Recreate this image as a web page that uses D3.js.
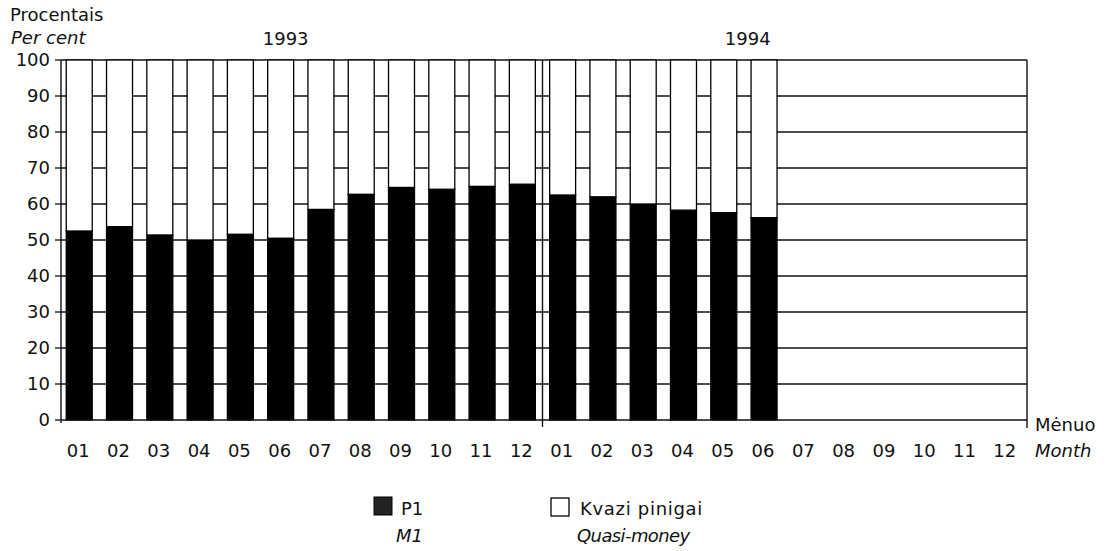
<!DOCTYPE html>
<html>
<head>
<meta charset="utf-8">
<script src="https://cdn.jsdelivr.net/npm/d3@7"></script>
<style>
  body { margin: 0; background: #fff; }
  text { font-family: "DejaVu Sans", sans-serif; fill: #111; font-size: 18px; }
  .it { font-style: italic; }
</style>
</head>
<body>
<script>
var w = 1110, h = 551;

// months shown on the axis (two years)
var periods = ["1993-01","1993-02","1993-03","1993-04","1993-05","1993-06","1993-07","1993-08","1993-09","1993-10","1993-11","1993-12",
               "1994-01","1994-02","1994-03","1994-04","1994-05","1994-06","1994-07","1994-08","1994-09","1994-10","1994-11","1994-12"];
var monthLabels = ["01","02","03","04","05","06","07","08","09","10","11","12",
                   "01","02","03","04","05","06","07","08","09","10","11","12"];
var years = ["1993", "1994"];
// shares, per cent (only up to 1994-06)
var m1Share    = [52.5, 53.7, 51.4, 50.0, 51.6, 50.5, 58.5, 62.7, 64.6, 64.1, 64.9, 65.5, 62.5, 62.0, 60.0, 58.3, 57.6, 56.2];
var quasiShare = [47.5, 46.3, 48.6, 50.0, 48.4, 49.5, 41.5, 37.3, 35.4, 35.9, 35.1, 34.5, 37.5, 38.0, 40.0, 41.7, 42.4, 43.8];
var yTicks = [0, 10, 20, 30, 40, 50, 60, 70, 80, 90, 100];

var margin = {top: 60, left: 59, right: 1026, bottom: 420};

var svg = d3.select("body").append("svg")
    .attr("width", w)
    .attr("height", h);

var x = d3.scaleBand().domain(periods).range([margin.left, margin.right]).paddingInner(0.355).paddingOuter(0.18);
var y = d3.scaleLinear().domain([0, 100]).range([margin.bottom, margin.top]);

var data = m1Share.map(function(v, i) { return {period: periods[i], m1: v, quasi: quasiShare[i]}; });
var stacked = d3.stack().keys(["m1", "quasi"])(data);

var x0 = margin.left + 2, x1 = margin.right + 1;

// grid lines
svg.append("g").selectAll("line")
    .data(yTicks.slice(1))
    .enter().append("line")
    .attr("x1", x0).attr("x2", x1)
    .attr("y1", function(d) { return y(d); })
    .attr("y2", function(d) { return y(d); })
    .attr("stroke", "#111").attr("stroke-width", 1.3);

// bars
var colors = {m1: "#000", quasi: "#fff"};
stacked.forEach(function(s) {
  svg.append("g").selectAll("rect")
      .data(s)
      .enter().append("rect")
      .attr("x", function(d) { return x(d.data.period); })
      .attr("width", x.bandwidth())
      .attr("y", function(d) { return y(d[1]); })
      .attr("height", function(d) { return y(d[0]) - y(d[1]); })
      .attr("fill", colors[s.key])
      .attr("stroke", "#000")
      .attr("stroke-width", 1.3);
});

// frame: y axis, right border, x axis, year separator
svg.append("line").attr("x1", x0).attr("x2", x0).attr("y1", y(100)).attr("y2", y(0) + 3)
    .attr("stroke", "#111").attr("stroke-width", 1.4);
svg.append("line").attr("x1", x1).attr("x2", x1).attr("y1", y(100)).attr("y2", y(0) + 8)
    .attr("stroke", "#111").attr("stroke-width", 1.4);
svg.append("line").attr("x1", x0).attr("x2", x1).attr("y1", y(0)).attr("y2", y(0))
    .attr("stroke", "#111").attr("stroke-width", 1.4);
var sep = x(periods[12]) - x.step() * x.paddingInner() / 2;
svg.append("line").attr("x1", sep).attr("x2", sep).attr("y1", y(100)).attr("y2", y(0) + 7)
    .attr("stroke", "#111").attr("stroke-width", 1.4);

// y axis ticks and labels
var yAxis = svg.append("g");
yAxis.selectAll("line")
    .data(yTicks).enter().append("line")
    .attr("x1", x0 - 6).attr("x2", x0)
    .attr("y1", function(d) { return y(d); })
    .attr("y2", function(d) { return y(d); })
    .attr("stroke", "#111").attr("stroke-width", 1.3);
yAxis.selectAll("text")
    .data(yTicks).enter().append("text")
    .attr("x", 50)
    .attr("y", function(d) { return y(d); })
    .attr("dy", "0.36em")
    .attr("text-anchor", "end")
    .text(function(d) { return d; });

// x labels
svg.append("g").selectAll("text")
    .data(periods).enter().append("text")
    .attr("x", function(d) { return x(d) + x.bandwidth() / 2 - 1; })
    .attr("y", 457)
    .attr("text-anchor", "middle")
    .text(function(d, i) { return monthLabels[i]; });

// year labels
svg.append("text").attr("x", x(periods[5]) + x.bandwidth() / 2 + 5).attr("y", 45)
    .attr("text-anchor", "middle").text(years[0]);
svg.append("text").attr("x", x(periods[16]) + x.bandwidth() / 2 + 24).attr("y", 45)
    .attr("text-anchor", "middle").text(years[1]);

// axis titles
svg.append("text").attr("x", 10).attr("y", 21).text("Procentais");
svg.append("text").attr("class", "it").attr("x", 11).attr("y", 44).text("Per cent");
svg.append("text").attr("x", 1035).attr("y", 431).text("Mėnuo");
svg.append("text").attr("class", "it").attr("x", 1035).attr("y", 457).text("Month");

// legend
var legend = svg.append("g");
legend.append("rect").attr("x", 374).attr("y", 497).attr("width", 18).attr("height", 18)
    .attr("fill", "#222").attr("stroke", "#000");
legend.append("text").attr("x", 401).attr("y", 515).text("P1");
legend.append("text").attr("class", "it").attr("x", 396).attr("y", 542).text("M1");
legend.append("rect").attr("x", 551).attr("y", 498).attr("width", 18).attr("height", 18)
    .attr("fill", "#fff").attr("stroke", "#000").attr("stroke-width", 1.3);
legend.append("text").attr("x", 580).attr("y", 515).style("letter-spacing", "0.7px").text("Kvazi pinigai");
legend.append("text").attr("class", "it").attr("x", 577).attr("y", 542).style("letter-spacing", "-0.6px").text("Quasi-money");
</script>
</body>
</html>
